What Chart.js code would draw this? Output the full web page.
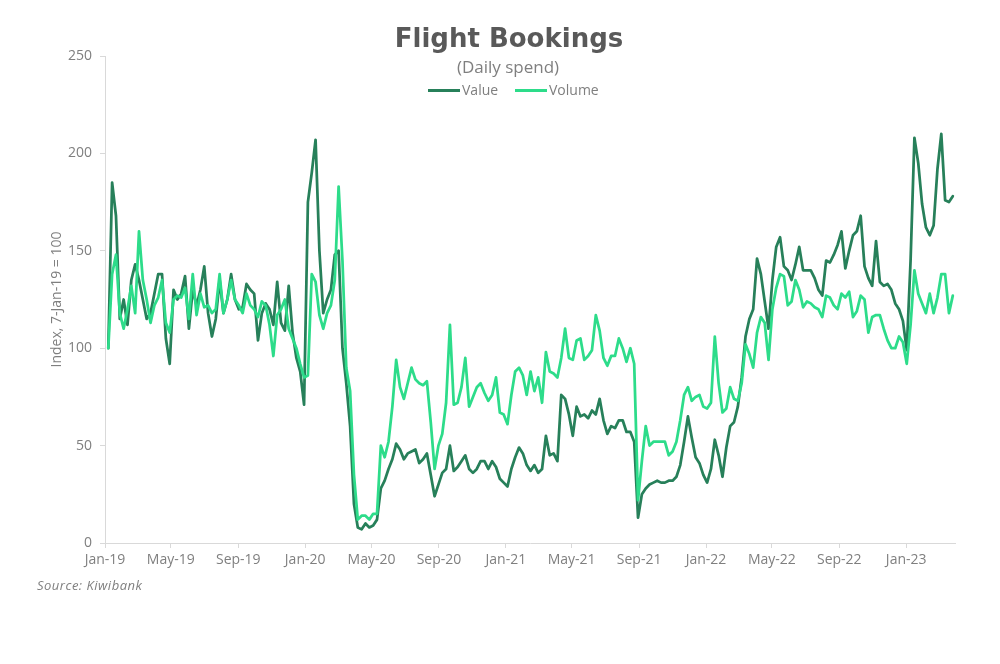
<!DOCTYPE html>
<html>
<head>
<meta charset="utf-8">
<script src="https://cdn.jsdelivr.net/npm/chart.js@4.4.0/dist/chart.umd.min.js"></script>
<style>
html,body{margin:0;padding:0;background:#fff;}
#wrap{position:relative;width:1000px;height:664px;overflow:hidden;background:#fff;}
#c{position:absolute;left:0;top:0;}
.t{position:absolute;white-space:nowrap;}
#title{left:9px;width:1000px;top:23px;line-height:30px;text-align:center;font-family:"DejaVu Sans",sans-serif;font-weight:bold;font-size:26px;color:#595959;}
#subtitle{left:8px;width:1000px;top:57px;line-height:20px;text-align:center;font-family:"Open Sans",sans-serif;font-size:17px;color:#7f7f7f;}
#source{left:37px;top:576px;line-height:18px;font-family:"Open Sans",sans-serif;font-style:italic;font-size:13px;letter-spacing:0.5px;color:#7f7f7f;}
.sw{position:absolute;height:3px;width:32px;top:89px;}
.lg{position:absolute;top:81px;line-height:18px;font-family:"Open Sans",sans-serif;font-size:14px;color:#7f7f7f;white-space:nowrap;}
</style>
</head>
<body>
<div id="wrap">
<canvas id="c" width="1000" height="664"></canvas>
<div class="t" id="title">Flight Bookings</div>
<div class="t" id="subtitle">(Daily spend)</div>
<div id="legend"></div>
<div class="t" id="source">Source: Kiwibank</div>
</div>
<script>
// Weekly observations, first one on 7-Jan-2019 (index = 100)
const firstDate = '2019-01-07';
const seriesNames = ['Value', 'Volume'];

const valueIdx = [
100,185,168,115,125,112,135,143,135,125,115,118,128,138,138,105,92,130,125,128,
137,110,130,122,130,142,118,106,115,135,118,125,138,125,120,121,133,130,128,104,
118,123,120,112,134,113,109,132,108,95,88,71,175,190,207,150,118,125,130,148,
150,100,82,60,20,8,7,10,8,9,12,28,32,38,43,51,48,43,46,47,
48,41,43,46,35,24,30,36,38,50,37,39,42,45,38,36,38,42,42,38,
42,39,33,31,29,38,44,49,46,40,37,40,36,38,55,45,46,42,76,74,
66,55,70,65,66,64,68,66,74,63,56,60,59,63,63,57,57,52,13,25,
28,30,31,32,31,31,32,32,34,40,52,65,54,44,41,35,31,38,53,45,
34,49,60,62,70,85,106,115,120,146,138,124,110,135,152,157,142,140,135,143,
152,140,140,140,136,130,127,145,144,148,153,160,141,150,158,160,168,142,136,132,
155,134,132,133,130,123,120,114,99,145,208,195,174,162,158,163,192,210,176,175,
178
];

const volumeIdx = [
100,138,148,118,110,120,132,118,160,135,125,113,122,126,135,113,108,125,127,126,
131,115,138,117,128,121,122,118,120,138,118,125,135,125,122,118,128,122,120,116,
124,122,112,96,117,120,125,110,105,100,92,85,86,138,134,117,110,118,122,135,
183,145,90,78,35,12,14,14,12,15,15,50,44,52,70,94,80,74,82,90,
84,82,81,83,62,38,50,56,72,112,71,72,80,95,70,75,80,82,77,73,
76,85,67,66,61,76,88,90,86,76,88,78,85,72,98,88,87,85,95,110,
95,94,104,105,94,96,99,117,109,95,91,96,96,105,100,93,100,92,22,42,
60,50,52,52,52,52,45,47,52,63,76,80,73,75,76,70,69,72,106,82,
67,69,80,74,73,82,102,97,90,108,116,113,94,120,131,138,137,122,124,135,
130,121,124,123,121,120,116,127,126,122,120,128,126,129,116,119,127,125,108,116,
117,117,110,104,100,100,106,103,92,112,140,128,123,118,128,118,126,138,138,118,
127
];

const tickLabels = ['Jan-19','May-19','Sep-19','Jan-20','May-20','Sep-20','Jan-21','May-21','Sep-21','Jan-22','May-22','Sep-22','Jan-23'];
const yTicks = [0, 50, 100, 150, 200, 250];

const colors = {Value: '#27805a', Volume: '#2ddc8a'};

// ---- helpers: dates -> days since 1-Jan-2019
const origin = Date.UTC(2019, 0, 1);
const DAY = 86400000;
const monthNo = {Jan:0,Feb:1,Mar:2,Apr:3,May:4,Jun:5,Jul:6,Aug:7,Sep:8,Oct:9,Nov:10,Dec:11};
function labelToDay(lbl){
  const [m, y] = lbl.split('-');
  return Math.round((Date.UTC(2000 + Number(y), monthNo[m], 1) - origin) / DAY);
}
const fd = firstDate.split('-').map(Number);
const firstDay = Math.round((Date.UTC(fd[0], fd[1]-1, fd[2]) - origin) / DAY);
const obsDays = valueIdx.map((_, i) => firstDay + 7 * i);
const tickDays = tickLabels.map(labelToDay);
const tickMap = {};
tickDays.forEach((d, i) => { tickMap[d] = tickLabels[i]; });
const axisEnd = Math.round((Date.UTC(2023, 3, 1) - origin) / DAY) - 1;

function pts(arr){ return arr.map((v, i) => ({x: obsDays[i], y: v})); }

const datasets = [
  {label: seriesNames[0], data: pts(valueIdx), borderColor: colors.Value, backgroundColor: colors.Value, order: 1},
  {label: seriesNames[1], data: pts(volumeIdx), borderColor: colors.Volume, backgroundColor: colors.Volume, order: 0}
].map(d => Object.assign(d, {borderWidth: 2.75, pointRadius: 0, tension: 0, fill: false, borderJoinStyle: 'round', borderCapStyle: 'round'}));

const axisGray = '#d9d9d9';
const tickFont = {family: '"Open Sans", sans-serif', size: 14};
const L = 48.6;

const chart = new Chart(document.getElementById('c'), {
  type: 'line',
  data: {datasets},
  options: {
    responsive: false,
    animation: false,
    devicePixelRatio: 1,
    layout: {padding: {left: L, right: 45, top: 56, bottom: 0}},
    plugins: {legend: {display: false}, tooltip: {enabled: false}, title: {display: false}},
    scales: {
      x: {
        type: 'linear', min: 0, max: axisEnd,
        afterBuildTicks: (s) => { s.ticks = tickDays.map(v => ({value: v})); },
        afterFit: (s) => { s.height = 664 - 543; },
        grid: {display: true, drawOnChartArea: false, drawTicks: true, tickLength: 5, color: axisGray, lineWidth: 1},
        border: {display: true, color: axisGray, width: 1},
        ticks: {autoSkip: false, maxRotation: 0, minRotation: 0, padding: 4, color: '#7f7f7f', font: tickFont,
                callback: (v) => tickMap[v] || ''}
      },
      y: {
        min: 0, max: 250,
        afterBuildTicks: (s) => { s.ticks = yTicks.map(v => ({value: v})); },
        afterFit: (s) => { s.width = 105 - L; },
        grid: {display: true, drawOnChartArea: false, drawTicks: true, tickLength: 5, color: axisGray, lineWidth: 1},
        border: {display: true, color: axisGray, width: 1},
        ticks: {padding: 8, color: '#7f7f7f', font: tickFont},
        title: {display: true, text: 'Index, 7-Jan-19 = 100', color: '#7f7f7f', font: tickFont, padding: {top: 0, bottom: 0}}
      }
    }
  }
});

// HTML legend built from the chart's datasets
const legendPos = [{sw: 428, tx: 462}, {sw: 515, tx: 549}];
const lg = document.getElementById('legend');
chart.data.datasets.forEach((ds, i) => {
  const sw = document.createElement('div');
  sw.className = 'sw';
  sw.style.left = legendPos[i].sw + 'px';
  sw.style.background = ds.borderColor;
  lg.appendChild(sw);
  const tx = document.createElement('div');
  tx.className = 'lg';
  tx.style.left = legendPos[i].tx + 'px';
  tx.textContent = ds.label;
  lg.appendChild(tx);
});
</script>
</body>
</html>
